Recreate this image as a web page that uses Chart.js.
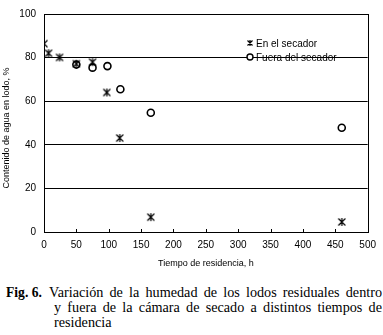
<!DOCTYPE html>
<html>
<head>
<meta charset="utf-8">
<script src="https://cdn.jsdelivr.net/npm/chart.js@4.4.1/dist/chart.umd.min.js"></script>
<style>
  html, body { margin: 0; padding: 0; background: #fff; }
  #wrap { position: relative; width: 383px; height: 270px; }
  #caption {
    position: absolute; left: 0; top: 285px; width: 382px;
    font-family: "Liberation Serif", "Times New Roman", serif;
    font-size: 14.2px; line-height: 15px; color: #000;
  }
  #caption .lab { position: absolute; left: 6px; top: 0; font-weight: bold; font-size: 13.6px; }
  #caption .l1 { margin-left: 49px; text-align: justify; text-align-last: justify; white-space: nowrap; }
  #caption .l2 { margin-left: 54px; text-align: justify; text-align-last: justify; white-space: nowrap; }
  #caption .l3 { margin-left: 54px; white-space: nowrap; }
</style>
</head>
<body>
<div id="wrap"><canvas id="c" width="383" height="270"></canvas></div>
<div id="caption">
  <span class="lab">Fig. 6.</span>
  <div class="l1">Variación de la humedad de los lodos residuales dentro</div>
  <div class="l2">y fuera de la cámara de secado a distintos tiempos de</div>
  <div class="l3">residencia</div>
</div>
<script>
// ---- data ----
const seriesNames = ["En el secador", "Fuera del secador"];
const dentroX = [0, 7, 24, 50, 75, 97, 117, 165, 460];
const dentroY = [86.4, 82, 80.1, 77.2, 77.9, 64, 43.1, 6.8, 4.6];
const fueraX = [50, 75, 98, 118, 165, 460];
const fueraY = [76.8, 75.4, 76.1, 65.5, 54.7, 47.8];
const xTicks = [0, 50, 100, 150, 200, 250, 300, 350, 400, 450, 500];
const yTicks = [0, 20, 40, 60, 80, 100];
const xTitle = "Tiempo de residencia, h";
const yTitle = "Contenido de agua en lodo, %";

const toPts = (xs, ys) => xs.map((x, i) => ({x: x, y: ys[i]}));

function makeAsterisk(s, lw) {
  const c = document.createElement('canvas');
  c.width = s; c.height = s;
  const g = c.getContext('2d');
  g.strokeStyle = '#000'; g.lineWidth = lw; g.lineCap = 'butt';
  g.beginPath();
  g.moveTo(1.5, 1.5); g.lineTo(s - 1.5, s - 1.5);
  g.moveTo(s - 1.5, 1.5); g.lineTo(1.5, s - 1.5);
  g.moveTo(s / 2, 1); g.lineTo(s / 2, s - 1);
  g.stroke();
  return c;
}
const asterisk = makeAsterisk(10, 1.2);
const asteriskSmall = makeAsterisk(8, 1.2);

const SANS = '"Liberation Sans", Arial, sans-serif';

const framePlugin = {
  id: 'frame',
  beforeDatasetsDraw(chart) {
    const {ctx, chartArea: a, scales} = chart;
    ctx.save();
    ctx.strokeStyle = '#000';
    ctx.lineWidth = 1;
    ctx.strokeRect(Math.round(a.left) + 0.5, Math.round(a.top) + 0.5,
                   Math.round(a.right - a.left), Math.round(a.bottom - a.top));
    ctx.beginPath();
    xTicks.forEach(v => {
      const px = Math.round(scales.x.getPixelForValue(v)) + 0.5;
      ctx.moveTo(px, a.bottom);
      ctx.lineTo(px, a.bottom - 3);
    });
    ctx.stroke();
    ctx.fillStyle = '#000';
    ctx.font = '9px ' + SANS;
    ctx.translate(7, 128);
    ctx.rotate(-Math.PI / 2);
    ctx.textAlign = 'center';
    ctx.textBaseline = 'middle';
    ctx.fillText(yTitle, 0, 0);
    ctx.restore();
  },
  afterDraw(chart) {
    const {ctx} = chart;
    const lx = 250, ly1 = 43, ly2 = 57;
    ctx.save();
    ctx.drawImage(asteriskSmall, lx - 4, ly1 - 4);
    ctx.beginPath();
    ctx.arc(lx, ly2, 3, 0, Math.PI * 2);
    ctx.fillStyle = '#fff'; ctx.fill();
    ctx.strokeStyle = '#000'; ctx.lineWidth = 1.4; ctx.stroke();
    ctx.fillStyle = '#000';
    ctx.font = '10px ' + SANS;
    ctx.textBaseline = 'middle';
    ctx.fillText(seriesNames[0], 256, ly1 + 1);
    ctx.fillText(seriesNames[1], 256, ly2 + 1);
    ctx.restore();
  }
};

new Chart(document.getElementById('c'), {
  type: 'scatter',
  data: {
    datasets: [
      {
        label: seriesNames[0],
        data: toPts(dentroX, dentroY),
        pointStyle: asterisk,
        pointRadius: 5,
        showLine: false,
        order: 0
      },
      {
        label: seriesNames[1],
        data: toPts(fueraX, fueraY),
        pointStyle: 'circle',
        pointRadius: 3.5,
        pointBorderWidth: 1.6,
        pointBackgroundColor: '#fff',
        pointBorderColor: '#000',
        showLine: false,
        order: 1
      }
    ]
  },
  options: {
    responsive: false,
    animation: false,
    layout: { padding: { top: 6, right: 11, left: 0, bottom: 0 } },
    plugins: { legend: { display: false }, tooltip: { enabled: false } },
    scales: {
      x: {
        type: 'linear', min: 0, max: 500,
        afterBuildTicks: s => { s.ticks = xTicks.map(v => ({value: v})); },
        afterFit: s => { s.height = 38; },
        grid: { display: false, drawTicks: false },
        border: { display: false },
        ticks: { color: '#000', font: { family: SANS, size: 10 }, padding: 7, maxRotation: 0 },
        title: { display: true, text: xTitle, color: '#000',
                 font: { family: SANS, size: 9 }, padding: { top: 0, bottom: 1 } }
      },
      y: {
        type: 'linear', min: 0, max: 100,
        afterBuildTicks: s => { s.ticks = yTicks.map(v => ({value: v})); },
        afterFit: s => { s.width = 44; },
        grid: { color: '#000', lineWidth: 1, drawTicks: false },
        border: { display: false },
        ticks: { color: '#000', font: { family: SANS, size: 10 }, padding: 8 }
      }
    }
  },
  plugins: [framePlugin]
});
</script>
</body>
</html>
